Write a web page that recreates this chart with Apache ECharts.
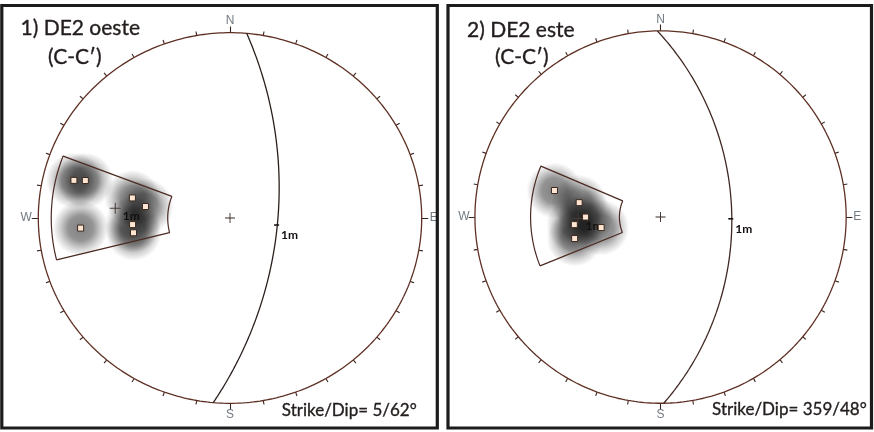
<!DOCTYPE html>
<html>
<head>
<meta charset="utf-8">
<script src="https://cdn.jsdelivr.net/npm/echarts@6/dist/echarts.min.js"></script>
<style>
html,body{margin:0;padding:0;background:#fff;}
#c{width:874px;height:432px;}
</style>
</head>
<body>
<div id="c"></div>
<script>
// Panel headings
const titles = ['1) DE2 oeste', '2) DE2 este'];
const subtitles = ['(C-C′)', '(C-C′)'];
// Mean discontinuity set, strike / dip (right-hand rule)
const meanStrike = [5, 359];
const meanDip = [62, 48];
const setLabel = '1m';
// Poles to measured planes: trend / plunge in degrees
const poleTrend1 = [284, 285, 266, 282, 278, 266, 261];
const polePlunge1 = [10, 14, 14, 35, 42, 36, 36];
const poleTrend2 = [284, 280, 270, 265, 260, 256];
const polePlunge2 = [29, 42, 46, 40, 54, 39];
// Set selection windows: trend range and plunge range
const windowTrend = [[256, 291], [248, 293]];
const windowPlunge = [[4, 54], [20, 65]];
const cardinals = ['N', 'E', 'S', 'W'];
const tickStep = 10;

const D = Math.PI / 180;
// Equal-angle (Wulff) projection of a line, lower hemisphere
function proj(trend, plunge) {
  const r = Math.tan((90 - plunge) / 2 * D);
  return [r * Math.sin(trend * D), r * Math.cos(trend * D)];
}
function greatCircle(strike, dip) {
  const pts = [];
  const sv = [Math.sin(strike * D), Math.cos(strike * D), 0];
  const dd = strike + 90;
  const dv = [Math.cos(dip * D) * Math.sin(dd * D), Math.cos(dip * D) * Math.cos(dd * D), Math.sin(dip * D)];
  for (let t = 0; t <= 180; t += 1) {
    const e = Math.cos(t * D) * sv[0] + Math.sin(t * D) * dv[0];
    const n = Math.cos(t * D) * sv[1] + Math.sin(t * D) * dv[1];
    const d = Math.cos(t * D) * sv[2] + Math.sin(t * D) * dv[2];
    const pl = Math.asin(Math.min(1, Math.max(-1, d))) / D;
    const tr = Math.atan2(e, n) / D;
    pts.push(proj(tr, pl));
  }
  return pts;
}
function windowOutline(tr, pl) {
  const pts = [];
  for (let t = tr[0]; t <= tr[1]; t += 1) pts.push(proj(t, pl[0]));
  for (let t = tr[1]; t >= tr[0]; t -= 1) pts.push(proj(t, pl[1]));
  pts.push(proj(tr[0], pl[0]));
  return pts;
}
function primitive() {
  const pts = [];
  for (let a = 0; a <= 360; a += 1) pts.push([Math.sin(a * D), Math.cos(a * D)]);
  return pts;
}
function ticks() {
  const out = [];
  for (let a = 0; a < 360; a += tickStep) {
    const len = a % 90 === 0 ? 1.034 : 1.022;
    out.push({ coords: [[Math.sin(a * D), Math.cos(a * D)], [len * Math.sin(a * D), len * Math.cos(a * D)]] });
  }
  return out;
}

const panels = [
  { trend: poleTrend1, plunge: polePlunge1, gc: '#2a1f1c', labR: 1.063 },
  { trend: poleTrend2, plunge: polePlunge2, gc: '#3f2822', labR: 1.06 }
];
const rim = '#5e3024';
const plusPath = 'path://M0,4.55h10v0.9h-10zM4.55,0h0.9v10h-0.9z';

const chart = echarts.init(document.getElementById('c'), null, { renderer: 'canvas' });

const grids = [
  { left: 9.55, top: 4.9, width: 440.9, height: 426.2 },
  { left: 447.1, top: 2.9, width: 428.3, height: 428.3 }
];
const xAxes = [], yAxes = [], series = [];
panels.forEach((p, i) => {
  xAxes.push({ gridIndex: i, type: 'value', min: -1.15, max: 1.15, show: false });
  yAxes.push({ gridIndex: i, type: 'value', min: -1.15, max: 1.15, show: false });
  const ax = { xAxisIndex: i, yAxisIndex: i, silent: true, animation: false };
  const poles = p.trend.map((t, k) => proj(t, p.plunge[k]));
  // kernel density shading
  series.push(Object.assign({
    type: 'scatter', data: poles, symbolSize: 56, z: 1,
    itemStyle: {
      opacity: 1,
      color: new echarts.graphic.RadialGradient(0.5, 0.5, 0.5, [
        { offset: 0, color: 'rgba(0,0,0,0.5)' },
        { offset: 0.45, color: 'rgba(0,0,0,0.42)' },
        { offset: 0.75, color: 'rgba(0,0,0,0.17)' },
        { offset: 1, color: 'rgba(0,0,0,0)' }
      ])
    }
  }, ax));
  // primitive circle
  series.push(Object.assign({
    type: 'line', data: primitive(), symbol: 'none', z: 3,
    lineStyle: { color: rim, width: 1.3 }
  }, ax));
  series.push(Object.assign({
    type: 'lines', coordinateSystem: 'cartesian2d', data: ticks(), z: 3,
    lineStyle: { color: '#3a2420', width: 1.1, opacity: 1 }
  }, ax));
  // mean plane
  series.push(Object.assign({
    type: 'line', data: greatCircle(meanStrike[i], meanDip[i]), symbol: 'none', z: 3,
    lineStyle: { color: p.gc, width: 1.3 }
  }, ax));
  // selection window
  series.push(Object.assign({
    type: 'line', data: windowOutline(windowTrend[i], windowPlunge[i]), symbol: 'none', z: 3,
    lineStyle: { color: '#4a2a22', width: 1.2 }
  }, ax));
  // poles
  series.push(Object.assign({
    type: 'scatter', data: poles, symbol: 'rect', symbolSize: 6, z: 6,
    itemStyle: { opacity: 1, color: '#ffe6d2', borderColor: '#3a2a22', borderWidth: 1 }
  }, ax));
  // projection centre
  series.push(Object.assign({
    type: 'scatter', data: [[0, 0]], symbol: plusPath, symbolSize: 10, z: 5,
    itemStyle: { opacity: 1, color: '#3a2a26' }
  }, ax));
  // mean pole of the set
  const mp = proj(meanStrike[i] + 90 + 180, 90 - meanDip[i]);
  series.push(Object.assign({
    type: 'scatter', data: [mp], symbol: plusPath, symbolSize: 11, z: 5,
    itemStyle: { opacity: 1, color: '#4a3c38' },
    label: { show: true, formatter: setLabel, position: 'right', offset: [-3, 8],
      color: '#140f0f', fontSize: 12, fontWeight: 'bold', fontFamily: 'Lato' }
  }, ax));
  // dip direction point on the mean plane
  const dp = proj(meanStrike[i] + 90, meanDip[i]);
  series.push(Object.assign({
    type: 'scatter', data: [dp], symbol: 'rect', symbolSize: [5, 1.6], symbolOffset: [-1, 3], z: 5,
    itemStyle: { opacity: 1, color: '#1a1414' },
    label: { show: true, formatter: setLabel, position: 'right', offset: [-3, 10],
      color: '#140f0f', fontSize: 12, fontWeight: 'bold', fontFamily: 'Lato' }
  }, ax));
  // cardinal directions
  series.push(Object.assign({
    type: 'scatter', symbolSize: 0, z: 5,
    data: cardinals.map((c, k) => ({ value: [p.labR * Math.sin(k * 90 * D), p.labR * Math.cos(k * 90 * D)], name: c })),
    label: { show: true, position: 'inside', formatter: '{b}', color: '#4c5762', fontSize: 12, fontFamily: 'Liberation Sans' }
  }, ax));
});

const textColor = '#231e1d';
const textStyle = (text, font, extra) => Object.assign({ text: text, fill: textColor, stroke: textColor, lineWidth: 0.35, font: font, textVerticalAlign: 'middle' }, extra || {});
const graphic = [
  { type: 'rect', shape: { x: 1.8, y: 5.5, width: 435.5, height: 422.5 }, style: { fill: 'none', stroke: '#1c1c1c', lineWidth: 3.2 }, z: 10, silent: true },
  { type: 'rect', shape: { x: 448, y: 5.5, width: 423.5, height: 422.5 }, style: { fill: 'none', stroke: '#1c1c1c', lineWidth: 3.2 }, z: 10, silent: true },
  { type: 'text', x: 20.5, y: 28.7, style: textStyle(titles[0], '21px Lato'), z: 10 },
  { type: 'text', x: 48, y: 57.5, style: textStyle(subtitles[0], '21px Lato'), z: 10 },
  { type: 'text', x: 467, y: 30, style: textStyle(titles[1], '21px Lato'), z: 10 },
  { type: 'text', x: 495, y: 57.5, style: textStyle(subtitles[1], '21px Lato'), z: 10 },
  { type: 'text', x: 416.7, y: 411, style: textStyle('Strike/Dip= ' + meanStrike[0] + '/' + meanDip[0] + '°', '17px Lato', { textAlign: 'right' }), z: 10 },
  { type: 'text', x: 866.7, y: 410, style: textStyle('Strike/Dip= ' + meanStrike[1] + '/' + meanDip[1] + '°', '17px Lato', { textAlign: 'right' }), z: 10 }
];

chart.setOption({
  animation: false,
  backgroundColor: '#ffffff',
  grid: grids,
  xAxis: xAxes,
  yAxis: yAxes,
  series: series,
  graphic: graphic
});
</script>
</body>
</html>
